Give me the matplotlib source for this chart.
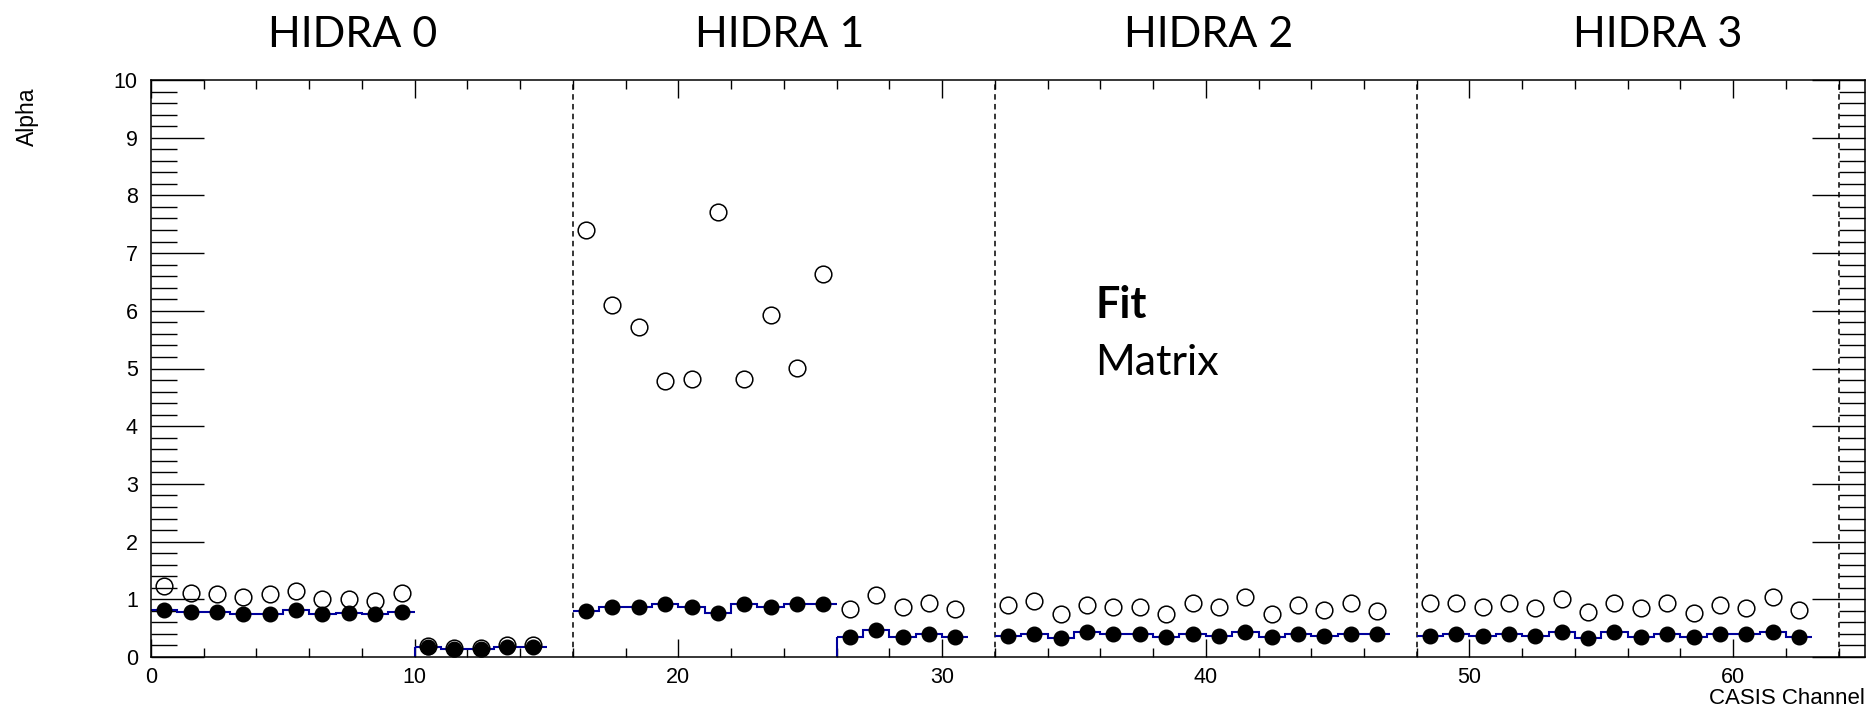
import numpy as np
import matplotlib
matplotlib.use("Agg")
import matplotlib.pyplot as plt
from matplotlib.ticker import MultipleLocator

nan = np.nan
# ---- data ----
channels = list(range(64))
fit_alpha = [
    0.815, 0.786, 0.786, 0.745, 0.745, 0.815, 0.745, 0.757, 0.745, 0.786,
    0.17, 0.14, 0.14, 0.18, 0.18, nan,
    0.80, 0.873, 0.873, 0.913, 0.873, 0.768, 0.913, 0.873, 0.913, 0.913,
    0.352, 0.468, 0.352, 0.393, 0.352, nan,
    0.364, 0.393, 0.335, 0.428, 0.393, 0.393, 0.341, 0.393, 0.364, 0.428,
    0.341, 0.393, 0.364, 0.393, 0.393, nan,
    0.364, 0.393, 0.364, 0.393, 0.364, 0.44, 0.335, 0.44, 0.352, 0.393,
    0.352, 0.393, 0.393, 0.44, 0.352, nan,
]
matrix_alpha = [
    1.236, 1.115, 1.086, 1.045, 1.086, 1.144, 1.005, 1.005, 0.976, 1.115,
    0.19, 0.16, 0.16, 0.20, 0.20, nan,
    7.40, 6.095, 5.725, 4.783, 4.81, 7.71, 4.81, 5.927, 5.014, 6.632,
    0.832, 1.075, 0.86, 0.93, 0.832, nan,
    0.90, 0.976, 0.74, 0.90, 0.872, 0.872, 0.74, 0.93, 0.872, 1.035,
    0.74, 0.90, 0.815, 0.94, 0.80, nan,
    0.93, 0.94, 0.872, 0.94, 0.844, 1.0, 0.785, 0.94, 0.844, 0.94,
    0.768, 0.90, 0.844, 1.035, 0.815, nan,
]
fit_err = [0.12] * 64
# contiguous histogram groups (first channel, last channel)
hist_groups = [(0, 9), (10, 14), (16, 25), (26, 30), (32, 46), (48, 62)]
board_edges = [16, 32, 48, 64]
board_names = ["HIDRA 0", "HIDRA 1", "HIDRA 2", "HIDRA 3"]
x_label = "CASIS Channel"
y_label = "Alpha"

# ---- figure ----
W, H = 1873, 713
fig = plt.figure(figsize=(W / 100, H / 100), dpi=100)
L, R, B, T = 151, 1865, 657, 80
ax = fig.add_axes([L / W, 1 - B / H, (R - L) / W, (B - T) / H])
ax.set_xlim(0, 65)
ax.set_ylim(0, 10)

tickfont = "Liberation Sans"
x = np.array(channels, dtype=float) + 0.5
fit = np.array(fit_alpha)
mat = np.array(matrix_alpha)

# blue histogram steps
for a, b in hist_groups:
    vals = fit[a:b + 1]
    edges = np.arange(a, b + 2, dtype=float)
    ax.stairs(vals, edges, baseline=None, color="#00009c", linewidth=1.5, zorder=2)
    if a != 0 and a not in board_edges:
        ax.vlines(edges[0], 0, vals[0], color="#00009c", linewidth=1.5, zorder=2)

# separators
for e in board_edges:
    ax.axvline(e, color="black", linewidth=1.1, linestyle=(0, (3.6, 2.8)), zorder=1)

# markers
ax.errorbar(x, fit, yerr=fit_err, fmt="o", color="black", markersize=10.5,
            elinewidth=1.0, capsize=0, zorder=4)
ax.plot(x, mat, "o", markerfacecolor="none", markeredgecolor="black",
        markersize=12.0, markeredgewidth=1.1, zorder=5)

# ticks
ax.xaxis.set_major_locator(MultipleLocator(10))
ax.xaxis.set_minor_locator(MultipleLocator(2))
ax.yaxis.set_major_locator(MultipleLocator(1))
ax.yaxis.set_minor_locator(MultipleLocator(0.2))
ax.tick_params(axis="both", which="both", direction="in", top=True, right=True,
               width=1.0, color="black")
ax.tick_params(axis="x", which="major", length=13, pad=7)
ax.tick_params(axis="x", which="minor", length=6.5)
ax.tick_params(axis="y", which="major", length=38, pad=9.5)
ax.tick_params(axis="y", which="minor", length=19)
for lab in ax.get_xticklabels() + ax.get_yticklabels():
    lab.set_fontfamily(tickfont)
    lab.set_fontsize(15.5)
for s in ax.spines.values():
    s.set_linewidth(1.1)

# axis titles (ROOT style placement)
fig.text(R / W, 1 - 698 / H, x_label, ha="right", va="center",
         fontfamily=tickfont, fontsize=16)
fig.text(27 / W, 1 - 88 / H, y_label, ha="center", va="top", rotation=90,
         fontfamily=tickfont, fontsize=16.5)

# board titles
title_x = [353, 780, 1209, 1658]
for name, tx in zip(board_names, title_x):
    fig.text(tx / W, 1 - 35 / H, name, ha="center", va="center",
             fontfamily="Lato", fontsize=31)

# in-plot labels
ax.text(35.8, 6.1, "Fit", ha="left", va="center", fontfamily="Lato",
        fontweight="bold", fontsize=31)
ax.text(35.8, 5.1, "Matrix", ha="left", va="center", fontfamily="Lato",
        fontsize=31)

fig.savefig("out.png", dpi=100)
